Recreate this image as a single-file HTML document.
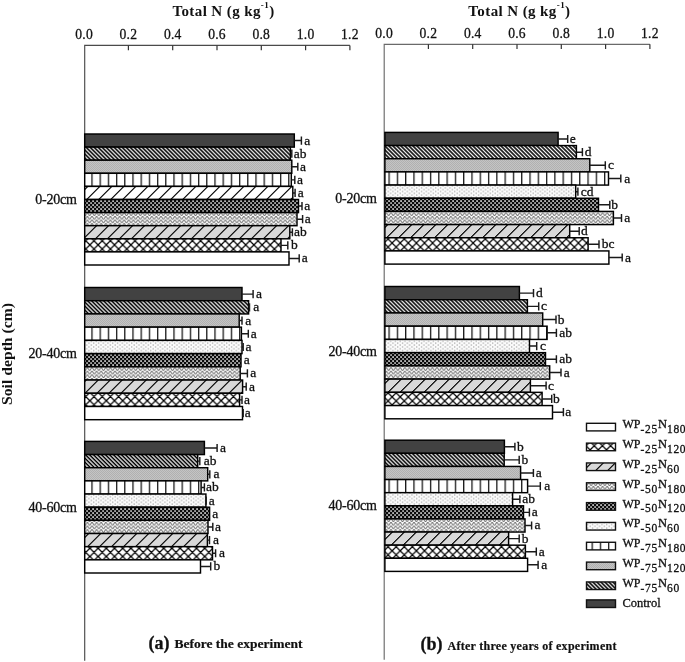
<!DOCTYPE html>
<html><head><meta charset="utf-8"><style>
html,body{margin:0;padding:0;background:#fff;}
svg{display:block;filter:blur(0.4px);}
text{font-family:"Liberation Serif",serif;fill:#111;stroke:#111;stroke-width:0.3px;}
.tk{font-size:13.6px;letter-spacing:0.2px;stroke-width:0.28px;}
.lb{font-size:13.5px;}
.lg{font-size:12px;}
.ti{font-size:15px;font-weight:bold;letter-spacing:0.4px;stroke:none;}
.cat{font-size:14px;letter-spacing:-0.25px;}
.yl{font-size:14.2px;font-weight:bold;stroke:none;}
.cap1{font-size:18px;font-weight:bold;stroke-width:0.3px;}
.cap2{font-size:13.5px;font-weight:bold;stroke-width:0.2px;}
</style></head><body>
<svg width="685" height="662" viewBox="0 0 685 662">
<defs>
<pattern id="p_hatch" patternUnits="userSpaceOnUse" width="2.83" height="10" patternTransform="rotate(-45)">
<rect width="2.83" height="10" fill="#000"/><rect x="0" width="1.25" height="10" fill="#fff"/></pattern>
<pattern id="p_grey" patternUnits="userSpaceOnUse" width="2" height="2">
<rect width="2" height="2" fill="#c4c4c4"/><rect width="1" height="1" fill="#b0b0b0"/><rect x="1" y="1" width="1" height="1" fill="#b0b0b0"/></pattern>
<pattern id="p_vert" patternUnits="userSpaceOnUse" width="8.2" height="10" x="83.15">
<rect width="8.2" height="10" fill="#fff"/><rect x="0" width="1.3" height="10" fill="#1a1a1a"/></pattern>
<pattern id="p_vertR" patternUnits="userSpaceOnUse" width="8.29" height="10" x="380.16">
<rect width="8.29" height="10" fill="#fff"/><rect x="0" width="1.3" height="10" fill="#1a1a1a"/></pattern>
<pattern id="p_dot" patternUnits="userSpaceOnUse" width="4.75" height="3.7">
<rect width="4.75" height="3.7" fill="#fcfcfc"/><rect x="0.6" y="0.4" width="1.1" height="1.1" fill="#8a8a8a"/><rect x="2.97" y="2.25" width="1.1" height="1.1" fill="#8a8a8a"/></pattern>
<pattern id="p_check" patternUnits="userSpaceOnUse" width="4" height="4">
<rect width="4" height="4" fill="#0a0a0a"/><rect x="0.2" y="0.2" width="1.75" height="1.75" fill="#cacaca"/><rect x="2.2" y="2.2" width="1.75" height="1.75" fill="#b4b4b4"/></pattern>
<pattern id="p_zig" patternUnits="userSpaceOnUse" width="4.6" height="3.6">
<rect width="4.6" height="3.6" fill="#fcfcfc"/><path d="M-2.3 3.6L0 0L2.3 3.6L4.6 0L6.9 3.6" stroke="#707070" stroke-width="1.0" fill="none"/></pattern>
<pattern id="p_gslash" patternUnits="userSpaceOnUse" width="12" height="13.2" x="9.35" patternTransform="skewX(-45)">
<rect width="12" height="13.2" fill="#d9d9d9"/><rect x="0" width="1.7" height="13.2" fill="#111"/></pattern>
<pattern id="p_gslashR" patternUnits="userSpaceOnUse" width="12" height="13.2" x="-0.45" patternTransform="skewX(-45)">
<rect width="12" height="13.2" fill="#d9d9d9"/><rect x="0" width="1.7" height="13.2" fill="#111"/></pattern>
<pattern id="p_wslash" patternUnits="userSpaceOnUse" width="12" height="13.2" x="9.35" patternTransform="skewX(-45)">
<rect width="12" height="13.2" fill="#fff"/><rect x="0" width="1.7" height="13.2" fill="#111"/></pattern>
<pattern id="p_cross" patternUnits="userSpaceOnUse" width="8.2" height="8.2" x="7.9" y="7.1">
<rect width="8.2" height="8.2" fill="#fff"/><path d="M-1 -1L9.2 9.2M9.2 -1L-1 9.2M-1 7.2L1 9.2M7.2 -1L9.2 1M-1 1L1 -1M7.2 9.2L9.2 7.2" stroke="#000" stroke-width="1.25"/></pattern>
<pattern id="p_crossR" patternUnits="userSpaceOnUse" width="8.1" height="8.1" x="3.3" y="0">
<rect width="8.1" height="8.1" fill="#fff"/><path d="M-1 -1L9.1 9.1M9.1 -1L-1 9.1M-1 7.1L1 9.1M7.1 -1L9.1 1M-1 1L1 -1M7.1 9.1L9.1 7.1" stroke="#000" stroke-width="1.25"/></pattern>
</defs>
<text x="223.5" y="15.8" class="ti" text-anchor="middle">Total N (g kg<tspan dy="-8" font-size="9px">-1</tspan><tspan dy="8">)</tspan></text>
<text x="519.4" y="15.8" class="ti" text-anchor="middle">Total N (g kg<tspan dy="-8" font-size="9px">-1</tspan><tspan dy="8">)</tspan></text>
<path d="M84.7 660.8V45.4H349.9" stroke="#4a4a4a" stroke-width="1.15" fill="none"/>
<path d="M128.4 45.4V50.199999999999996" stroke="#333" stroke-width="1.2"/>
<path d="M172.7 45.4V50.199999999999996" stroke="#333" stroke-width="1.2"/>
<path d="M217 45.4V50.199999999999996" stroke="#333" stroke-width="1.2"/>
<path d="M261.3 45.4V50.199999999999996" stroke="#333" stroke-width="1.2"/>
<path d="M305.6 45.4V50.199999999999996" stroke="#333" stroke-width="1.2"/>
<path d="M349.9 45.4V50.199999999999996" stroke="#333" stroke-width="1.2"/>
<text x="84.1" y="39" class="tk" text-anchor="middle">0.0</text>
<text x="128.4" y="39" class="tk" text-anchor="middle">0.2</text>
<text x="172.7" y="39" class="tk" text-anchor="middle">0.4</text>
<text x="217" y="39" class="tk" text-anchor="middle">0.6</text>
<text x="261.3" y="39" class="tk" text-anchor="middle">0.8</text>
<text x="305.6" y="39" class="tk" text-anchor="middle">1.0</text>
<text x="349.9" y="39" class="tk" text-anchor="middle">1.2</text>
<path d="M384.2 659.7V44.3H649.9" stroke="#6a6a6a" stroke-width="1.15" fill="none"/>
<path d="M428.4 44.3V49.099999999999994" stroke="#333" stroke-width="1.2"/>
<path d="M472.7 44.3V49.099999999999994" stroke="#333" stroke-width="1.2"/>
<path d="M517 44.3V49.099999999999994" stroke="#333" stroke-width="1.2"/>
<path d="M561.3 44.3V49.099999999999994" stroke="#333" stroke-width="1.2"/>
<path d="M605.6 44.3V49.099999999999994" stroke="#333" stroke-width="1.2"/>
<path d="M649.9 44.3V49.099999999999994" stroke="#333" stroke-width="1.2"/>
<text x="384.1" y="37.8" class="tk" text-anchor="middle">0.0</text>
<text x="428.4" y="37.8" class="tk" text-anchor="middle">0.2</text>
<text x="472.7" y="37.8" class="tk" text-anchor="middle">0.4</text>
<text x="517" y="37.8" class="tk" text-anchor="middle">0.6</text>
<text x="561.3" y="37.8" class="tk" text-anchor="middle">0.8</text>
<text x="605.6" y="37.8" class="tk" text-anchor="middle">1.0</text>
<text x="649.9" y="37.8" class="tk" text-anchor="middle">1.2</text>
<rect x="84.7" y="134" width="209.6" height="13.1" fill="#424242" stroke="#000" stroke-width="1.45"/>
<path d="M294.3 140.55H301.4M301.4 136.45V144.65" stroke="#1a1a1a" stroke-width="1.45" fill="none"/>
<text transform="translate(304.35 144.55)" class="lb">a</text>
<rect x="84.7" y="147.1" width="205.7" height="13.1" fill="url(#p_hatch)" stroke="#000" stroke-width="1.45"/>
<path d="M290.4 153.65H291.8M291.8 149.55V157.75" stroke="#1a1a1a" stroke-width="1.45" fill="none"/>
<text transform="translate(293.75 157.65)" class="lb">ab</text>
<rect x="84.7" y="160.2" width="207.1" height="13.1" fill="url(#p_grey)" stroke="#000" stroke-width="1.45"/>
<path d="M291.8 166.75H297.8M297.8 162.65V170.85" stroke="#1a1a1a" stroke-width="1.45" fill="none"/>
<text transform="translate(300.05 170.75)" class="lb">a</text>
<rect x="84.7" y="173.3" width="206.6" height="13.1" fill="url(#p_vert)" stroke="#000" stroke-width="1.45"/>
<path d="M291.3 179.85H294.8M294.8 175.75V183.95" stroke="#1a1a1a" stroke-width="1.45" fill="none"/>
<text transform="translate(297.05 183.85)" class="lb">a</text>
<rect x="84.7" y="186.4" width="208.1" height="13.1" fill="url(#p_wslash)" stroke="#000" stroke-width="1.45"/>
<path d="M292.8 192.95H295.1M295.1 188.85V197.05" stroke="#1a1a1a" stroke-width="1.45" fill="none"/>
<text transform="translate(297.65 196.95)" class="lb">a</text>
<rect x="84.7" y="199.5" width="213.8" height="13.1" fill="url(#p_check)" stroke="#000" stroke-width="1.45"/>
<path d="M298.5 206.05H302M302 201.95V210.15" stroke="#1a1a1a" stroke-width="1.45" fill="none"/>
<text transform="translate(304.35 210.05)" class="lb">a</text>
<rect x="84.7" y="212.6" width="212.3" height="13.1" fill="url(#p_zig)" stroke="#000" stroke-width="1.45"/>
<path d="M297 219.15H302.6M302.6 215.05V223.25" stroke="#1a1a1a" stroke-width="1.45" fill="none"/>
<text transform="translate(304.65 223.15)" class="lb">a</text>
<rect x="84.7" y="225.7" width="205.1" height="13.1" fill="url(#p_gslash)" stroke="#000" stroke-width="1.45"/>
<path d="M289.8 232.25H292.4M292.4 228.15V236.35" stroke="#1a1a1a" stroke-width="1.45" fill="none"/>
<text transform="translate(294.05 236.25)" class="lb">ab</text>
<rect x="84.7" y="238.8" width="196.3" height="13.1" fill="url(#p_cross)" stroke="#000" stroke-width="1.45"/>
<path d="M281 245.35H287.8M287.8 241.25V249.45" stroke="#1a1a1a" stroke-width="1.45" fill="none"/>
<text transform="translate(290.9 249.35)" class="lb">b</text>
<rect x="84.7" y="251.9" width="204.3" height="13.1" fill="#ffffff" stroke="#000" stroke-width="1.45"/>
<path d="M289 258.45H299.2M299.2 254.35V262.55" stroke="#1a1a1a" stroke-width="1.45" fill="none"/>
<text transform="translate(301.65 262.45)" class="lb">a</text>
<rect x="84.7" y="287.5" width="157.3" height="13.22" fill="#424242" stroke="#000" stroke-width="1.45"/>
<path d="M242 294.11H253.1M253.1 290.01V298.21" stroke="#1a1a1a" stroke-width="1.45" fill="none"/>
<text transform="translate(256.05 298.11)" class="lb">a</text>
<rect x="84.7" y="300.72" width="163.9" height="13.22" fill="url(#p_hatch)" stroke="#000" stroke-width="1.45"/>
<path d="M248.6 307.33H249.5M249.5 303.23V311.43" stroke="#1a1a1a" stroke-width="1.45" fill="none"/>
<text transform="translate(253.25 311.33)" class="lb">a</text>
<rect x="84.7" y="313.94" width="154.5" height="13.22" fill="url(#p_grey)" stroke="#000" stroke-width="1.45"/>
<path d="M239.2 320.55H242M242 316.45V324.65" stroke="#1a1a1a" stroke-width="1.45" fill="none"/>
<text transform="translate(245.15 324.55)" class="lb">a</text>
<rect x="84.7" y="327.16" width="156.7" height="13.22" fill="url(#p_vert)" stroke="#000" stroke-width="1.45"/>
<path d="M241.4 333.77H248.3M248.3 329.67V337.87" stroke="#1a1a1a" stroke-width="1.45" fill="none"/>
<text transform="translate(250.85 337.77)" class="lb">a</text>
<rect x="84.7" y="340.38" width="157.3" height="13.22" fill="url(#p_dot)" stroke="#000" stroke-width="1.45"/>
<path d="M242 346.99H243.2M243.2 342.89V351.09" stroke="#1a1a1a" stroke-width="1.45" fill="none"/>
<text transform="translate(245.45 350.99)" class="lb">a</text>
<rect x="84.7" y="353.6" width="156.3" height="13.22" fill="url(#p_check)" stroke="#000" stroke-width="1.45"/>
<text transform="translate(243.65 364.21)" class="lb">a</text>
<rect x="84.7" y="366.82" width="155.5" height="13.22" fill="url(#p_zig)" stroke="#000" stroke-width="1.45"/>
<path d="M240.2 373.43H247.4M247.4 369.33V377.53" stroke="#1a1a1a" stroke-width="1.45" fill="none"/>
<text transform="translate(250.25 377.43)" class="lb">a</text>
<rect x="84.7" y="380.04" width="157.9" height="13.22" fill="url(#p_gslash)" stroke="#000" stroke-width="1.45"/>
<path d="M242.6 386.65H246.2M246.2 382.55V390.75" stroke="#1a1a1a" stroke-width="1.45" fill="none"/>
<text transform="translate(249.05 390.65)" class="lb">a</text>
<rect x="84.7" y="393.26" width="154.9" height="13.22" fill="url(#p_cross)" stroke="#000" stroke-width="1.45"/>
<path d="M239.6 399.87H242M242 395.77V403.97" stroke="#1a1a1a" stroke-width="1.45" fill="none"/>
<text transform="translate(243.95 403.87)" class="lb">a</text>
<rect x="84.7" y="406.48" width="157.8" height="13.22" fill="#ffffff" stroke="#000" stroke-width="1.45"/>
<path d="M242.5 413.09H243.2M243.2 408.99V417.19" stroke="#1a1a1a" stroke-width="1.45" fill="none"/>
<text transform="translate(244.75 417.09)" class="lb">a</text>
<rect x="84.7" y="441.4" width="119.7" height="13.16" fill="#424242" stroke="#000" stroke-width="1.45"/>
<path d="M204.4 447.98H217.1M217.1 443.88V452.08" stroke="#1a1a1a" stroke-width="1.45" fill="none"/>
<text transform="translate(219.95 451.98)" class="lb">a</text>
<rect x="84.7" y="454.56" width="113" height="13.16" fill="url(#p_hatch)" stroke="#000" stroke-width="1.45"/>
<path d="M197.7 461.14H199.8M199.8 457.04V465.24" stroke="#1a1a1a" stroke-width="1.45" fill="none"/>
<text transform="translate(203.65 465.14)" class="lb">ab</text>
<rect x="84.7" y="467.72" width="123" height="13.16" fill="url(#p_grey)" stroke="#000" stroke-width="1.45"/>
<path d="M207.7 474.3H209.8M209.8 470.2V478.4" stroke="#1a1a1a" stroke-width="1.45" fill="none"/>
<text transform="translate(213.55 478.3)" class="lb">a</text>
<rect x="84.7" y="480.88" width="116.4" height="13.16" fill="url(#p_vert)" stroke="#000" stroke-width="1.45"/>
<path d="M201.1 487.46H204.4M204.4 483.36V491.56" stroke="#1a1a1a" stroke-width="1.45" fill="none"/>
<text transform="translate(206.05 491.46)" class="lb">ab</text>
<rect x="84.7" y="494.04" width="121.2" height="13.16" fill="url(#p_dot)" stroke="#000" stroke-width="1.45"/>
<path d="M206.2 496.52V504.72" stroke="#1a1a1a" stroke-width="1.45" fill="none"/>
<text transform="translate(208.75 504.62)" class="lb">a</text>
<rect x="84.7" y="507.2" width="124.9" height="13.16" fill="url(#p_check)" stroke="#000" stroke-width="1.45"/>
<text transform="translate(212.35 517.78)" class="lb">a</text>
<rect x="84.7" y="520.36" width="123.3" height="13.16" fill="url(#p_zig)" stroke="#000" stroke-width="1.45"/>
<path d="M208 526.94H212.8M212.8 522.84V531.04" stroke="#1a1a1a" stroke-width="1.45" fill="none"/>
<text transform="translate(215.05 530.94)" class="lb">a</text>
<rect x="84.7" y="533.52" width="122.7" height="13.16" fill="url(#p_gslash)" stroke="#000" stroke-width="1.45"/>
<path d="M207.4 540.1H209.5M209.5 536V544.2" stroke="#1a1a1a" stroke-width="1.45" fill="none"/>
<text transform="translate(212.95 544.1)" class="lb">a</text>
<rect x="84.7" y="546.68" width="127.8" height="13.16" fill="url(#p_cross)" stroke="#000" stroke-width="1.45"/>
<path d="M212.5 553.26H215.6M215.6 549.16V557.36" stroke="#1a1a1a" stroke-width="1.45" fill="none"/>
<text transform="translate(219.05 557.26)" class="lb">a</text>
<rect x="84.7" y="559.84" width="115.8" height="13.16" fill="#ffffff" stroke="#000" stroke-width="1.45"/>
<path d="M200.5 566.42H210.7M210.7 562.32V570.52" stroke="#1a1a1a" stroke-width="1.45" fill="none"/>
<text transform="translate(213.4 570.42)" class="lb">b</text>
<rect x="384.9" y="132.4" width="173.2" height="13.17" fill="#424242" stroke="#000" stroke-width="1.45"/>
<path d="M558.1 138.99H567.7M567.7 134.89V143.09" stroke="#1a1a1a" stroke-width="1.45" fill="none"/>
<text transform="translate(569.8 142.99)" class="lb">e</text>
<rect x="384.9" y="145.57" width="191.5" height="13.17" fill="url(#p_hatch)" stroke="#000" stroke-width="1.45"/>
<path d="M576.4 152.16H582.4M582.4 148.06V156.25" stroke="#1a1a1a" stroke-width="1.45" fill="none"/>
<text transform="translate(584.7 156.16)" class="lb">d</text>
<rect x="384.9" y="158.74" width="204.9" height="13.17" fill="url(#p_grey)" stroke="#000" stroke-width="1.45"/>
<path d="M589.8 165.33H605.3M605.3 161.23V169.43" stroke="#1a1a1a" stroke-width="1.45" fill="none"/>
<text transform="translate(608 169.33)" class="lb">c</text>
<rect x="384.9" y="171.91" width="223.6" height="13.17" fill="url(#p_vertR)" stroke="#000" stroke-width="1.45"/>
<path d="M608.5 178.5H620.8M620.8 174.4V182.59" stroke="#1a1a1a" stroke-width="1.45" fill="none"/>
<text transform="translate(624.25 182.5)" class="lb">a</text>
<rect x="384.9" y="185.08" width="190.8" height="13.17" fill="url(#p_dot)" stroke="#000" stroke-width="1.45"/>
<path d="M575.7 191.67H577.9M577.9 187.57V195.77" stroke="#1a1a1a" stroke-width="1.45" fill="none"/>
<text transform="translate(580.8 195.67)" class="lb">cd</text>
<rect x="384.9" y="198.25" width="213.6" height="13.17" fill="url(#p_check)" stroke="#000" stroke-width="1.45"/>
<path d="M598.5 204.84H609.8M609.8 200.74V208.94" stroke="#1a1a1a" stroke-width="1.45" fill="none"/>
<text transform="translate(611.3 208.84)" class="lb">b</text>
<rect x="384.9" y="211.42" width="228.5" height="13.17" fill="url(#p_zig)" stroke="#000" stroke-width="1.45"/>
<path d="M613.4 218.01H621.5M621.5 213.91V222.11" stroke="#1a1a1a" stroke-width="1.45" fill="none"/>
<text transform="translate(624.35 222.01)" class="lb">a</text>
<rect x="384.9" y="224.59" width="184.8" height="13.17" fill="url(#p_gslashR)" stroke="#000" stroke-width="1.45"/>
<path d="M569.7 231.18H579.2M579.2 227.08V235.28" stroke="#1a1a1a" stroke-width="1.45" fill="none"/>
<text transform="translate(581 235.18)" class="lb">d</text>
<rect x="384.9" y="237.76" width="203.2" height="13.17" fill="url(#p_crossR)" stroke="#000" stroke-width="1.45"/>
<path d="M588.1 244.34H599M599 240.25V248.44" stroke="#1a1a1a" stroke-width="1.45" fill="none"/>
<text transform="translate(601.8 248.34)" class="lb">bc</text>
<rect x="384.9" y="250.93" width="224" height="13.17" fill="#ffffff" stroke="#000" stroke-width="1.45"/>
<path d="M608.9 257.51H622.2M622.2 253.41V261.62" stroke="#1a1a1a" stroke-width="1.45" fill="none"/>
<text transform="translate(624.95 261.51)" class="lb">a</text>
<rect x="384.9" y="286.5" width="134.5" height="13.23" fill="#424242" stroke="#000" stroke-width="1.45"/>
<path d="M519.4 293.12H533.5M533.5 289.01V297.22" stroke="#1a1a1a" stroke-width="1.45" fill="none"/>
<text transform="translate(536.1 297.12)" class="lb">d</text>
<rect x="384.9" y="299.73" width="142.5" height="13.23" fill="url(#p_hatch)" stroke="#000" stroke-width="1.45"/>
<path d="M527.4 306.35H538.7M538.7 302.25V310.45" stroke="#1a1a1a" stroke-width="1.45" fill="none"/>
<text transform="translate(540.9 310.35)" class="lb">c</text>
<rect x="384.9" y="312.96" width="157.8" height="13.23" fill="url(#p_grey)" stroke="#000" stroke-width="1.45"/>
<path d="M542.7 319.57H556M556 315.47V323.68" stroke="#1a1a1a" stroke-width="1.45" fill="none"/>
<text transform="translate(557.7 323.57)" class="lb">b</text>
<rect x="384.9" y="326.19" width="162.2" height="13.23" fill="url(#p_vertR)" stroke="#000" stroke-width="1.45"/>
<path d="M547.1 332.81H556.4M556.4 328.7V336.91" stroke="#1a1a1a" stroke-width="1.45" fill="none"/>
<text transform="translate(559.15 336.81)" class="lb">ab</text>
<rect x="384.9" y="339.42" width="144.6" height="13.23" fill="url(#p_dot)" stroke="#000" stroke-width="1.45"/>
<path d="M529.5 346.04H536.7M536.7 341.94V350.14" stroke="#1a1a1a" stroke-width="1.45" fill="none"/>
<text transform="translate(540.1 350.04)" class="lb">c</text>
<rect x="384.9" y="352.65" width="160.6" height="13.23" fill="url(#p_check)" stroke="#000" stroke-width="1.45"/>
<path d="M545.5 359.26H556.4M556.4 355.16V363.37" stroke="#1a1a1a" stroke-width="1.45" fill="none"/>
<text transform="translate(559.15 363.26)" class="lb">ab</text>
<rect x="384.9" y="365.88" width="164.8" height="13.23" fill="url(#p_zig)" stroke="#000" stroke-width="1.45"/>
<path d="M549.7 372.5H561M561 368.39V376.6" stroke="#1a1a1a" stroke-width="1.45" fill="none"/>
<text transform="translate(563.75 376.5)" class="lb">a</text>
<rect x="384.9" y="379.11" width="145.5" height="13.23" fill="url(#p_gslashR)" stroke="#000" stroke-width="1.45"/>
<path d="M530.4 385.73H546.1M546.1 381.62V389.83" stroke="#1a1a1a" stroke-width="1.45" fill="none"/>
<text transform="translate(547.9 389.73)" class="lb">c</text>
<rect x="384.9" y="392.34" width="157.2" height="13.23" fill="url(#p_crossR)" stroke="#000" stroke-width="1.45"/>
<path d="M542.1 398.96H551.7M551.7 394.86V403.06" stroke="#1a1a1a" stroke-width="1.45" fill="none"/>
<text transform="translate(553 402.96)" class="lb">b</text>
<rect x="384.9" y="405.57" width="167.6" height="13.23" fill="#ffffff" stroke="#000" stroke-width="1.45"/>
<path d="M552.5 412.19H563.4M563.4 408.08V416.29" stroke="#1a1a1a" stroke-width="1.45" fill="none"/>
<text transform="translate(565.35 416.19)" class="lb">a</text>
<rect x="384.9" y="440.2" width="119.5" height="13.12" fill="#424242" stroke="#000" stroke-width="1.45"/>
<path d="M504.4 446.76H514.9M514.9 442.66V450.86" stroke="#1a1a1a" stroke-width="1.45" fill="none"/>
<text transform="translate(517 450.76)" class="lb">b</text>
<rect x="384.9" y="453.32" width="119.3" height="13.12" fill="url(#p_hatch)" stroke="#000" stroke-width="1.45"/>
<path d="M504.2 459.88H519.2M519.2 455.78V463.98" stroke="#1a1a1a" stroke-width="1.45" fill="none"/>
<text transform="translate(521.4 463.88)" class="lb">b</text>
<rect x="384.9" y="466.44" width="135.7" height="13.12" fill="url(#p_grey)" stroke="#000" stroke-width="1.45"/>
<path d="M520.6 473H533.4M533.4 468.9V477.1" stroke="#1a1a1a" stroke-width="1.45" fill="none"/>
<text transform="translate(535.85 477)" class="lb">a</text>
<rect x="384.9" y="479.56" width="142.7" height="13.12" fill="url(#p_vertR)" stroke="#000" stroke-width="1.45"/>
<path d="M527.6 486.12H540.3M540.3 482.02V490.22" stroke="#1a1a1a" stroke-width="1.45" fill="none"/>
<text transform="translate(544.25 490.12)" class="lb">a</text>
<rect x="384.9" y="492.68" width="127.7" height="13.12" fill="url(#p_dot)" stroke="#000" stroke-width="1.45"/>
<path d="M512.6 499.24H519.9M519.9 495.14V503.34" stroke="#1a1a1a" stroke-width="1.45" fill="none"/>
<text transform="translate(522.35 503.24)" class="lb">ab</text>
<rect x="384.9" y="505.8" width="138.6" height="13.12" fill="url(#p_check)" stroke="#000" stroke-width="1.45"/>
<path d="M523.5 512.36H529.4M529.4 508.26V516.46" stroke="#1a1a1a" stroke-width="1.45" fill="none"/>
<text transform="translate(531.85 516.36)" class="lb">a</text>
<rect x="384.9" y="518.92" width="140.1" height="13.12" fill="url(#p_zig)" stroke="#000" stroke-width="1.45"/>
<path d="M525 525.48H531.6M531.6 521.38V529.58" stroke="#1a1a1a" stroke-width="1.45" fill="none"/>
<text transform="translate(534.45 529.48)" class="lb">a</text>
<rect x="384.9" y="532.04" width="123.7" height="13.12" fill="url(#p_gslashR)" stroke="#000" stroke-width="1.45"/>
<path d="M508.6 538.6H519.2M519.2 534.5V542.7" stroke="#1a1a1a" stroke-width="1.45" fill="none"/>
<text transform="translate(521.8 542.6)" class="lb">b</text>
<rect x="384.9" y="545.16" width="140.5" height="13.12" fill="url(#p_crossR)" stroke="#000" stroke-width="1.45"/>
<path d="M525.4 551.72H536.3M536.3 547.62V555.82" stroke="#1a1a1a" stroke-width="1.45" fill="none"/>
<text transform="translate(538.75 555.72)" class="lb">a</text>
<rect x="384.9" y="558.28" width="142.7" height="13.12" fill="#ffffff" stroke="#000" stroke-width="1.45"/>
<path d="M527.6 564.84H538.1M538.1 560.74V568.94" stroke="#1a1a1a" stroke-width="1.45" fill="none"/>
<text transform="translate(541.35 568.84)" class="lb">a</text>
<text x="76.6" y="204.1" class="cat" text-anchor="end">0-20cm</text>
<text x="76.6" y="357.5" class="cat" text-anchor="end">20-40cm</text>
<text x="76.6" y="511.5" class="cat" text-anchor="end">40-60cm</text>
<text x="376.6" y="202.5" class="cat" text-anchor="end">0-20cm</text>
<text x="376.6" y="355.9" class="cat" text-anchor="end">20-40cm</text>
<text x="376.6" y="510.4" class="cat" text-anchor="end">40-60cm</text>
<text transform="translate(11.6,354) rotate(-90)" class="yl" x="-51" textLength="102" lengthAdjust="spacingAndGlyphs">Soil depth (cm)</text>
<text x="148.5" y="649" class="cap1">(a)</text>
<text x="174.5" y="648.4" class="cap2">Before the experiment</text>
<text x="420.5" y="649.5" class="cap1">(b)</text>
<text x="447.5" y="649.5" class="cap2" style="font-size:12px;letter-spacing:0.27px">After three years of experiment</text>
<rect x="586.5" y="423.3" width="29" height="7.6" fill="#ffffff" stroke="#111" stroke-width="1.4"/>
<text x="622.5" y="428.2" class="lg">WP<tspan dy="4.9" font-size="11.5px" letter-spacing="0.7">-25</tspan><tspan dy="-4.9" font-size="12.5px">N</tspan><tspan dy="4.9" font-size="11.5px" letter-spacing="0.7">180</tspan></text>
<rect x="586.5" y="443.13" width="29" height="7.6" fill="url(#p_cross)" stroke="#111" stroke-width="1.4"/>
<text x="622.5" y="448.03" class="lg">WP<tspan dy="4.9" font-size="11.5px" letter-spacing="0.7">-25</tspan><tspan dy="-4.9" font-size="12.5px">N</tspan><tspan dy="4.9" font-size="11.5px" letter-spacing="0.7">120</tspan></text>
<rect x="586.5" y="462.96" width="29" height="7.6" fill="url(#p_gslash)" stroke="#111" stroke-width="1.4"/>
<text x="622.5" y="467.86" class="lg">WP<tspan dy="4.9" font-size="11.5px" letter-spacing="0.7">-25</tspan><tspan dy="-4.9" font-size="12.5px">N</tspan><tspan dy="4.9" font-size="11.5px" letter-spacing="0.7">60</tspan></text>
<rect x="586.5" y="482.79" width="29" height="7.6" fill="url(#p_zig)" stroke="#111" stroke-width="1.4"/>
<text x="622.5" y="487.69" class="lg">WP<tspan dy="4.9" font-size="11.5px" letter-spacing="0.7">-50</tspan><tspan dy="-4.9" font-size="12.5px">N</tspan><tspan dy="4.9" font-size="11.5px" letter-spacing="0.7">180</tspan></text>
<rect x="586.5" y="502.62" width="29" height="7.6" fill="url(#p_check)" stroke="#111" stroke-width="1.4"/>
<text x="622.5" y="507.52" class="lg">WP<tspan dy="4.9" font-size="11.5px" letter-spacing="0.7">-50</tspan><tspan dy="-4.9" font-size="12.5px">N</tspan><tspan dy="4.9" font-size="11.5px" letter-spacing="0.7">120</tspan></text>
<rect x="586.5" y="522.45" width="29" height="7.6" fill="url(#p_dot)" stroke="#111" stroke-width="1.4"/>
<text x="622.5" y="527.35" class="lg">WP<tspan dy="4.9" font-size="11.5px" letter-spacing="0.7">-50</tspan><tspan dy="-4.9" font-size="12.5px">N</tspan><tspan dy="4.9" font-size="11.5px" letter-spacing="0.7">60</tspan></text>
<rect x="586.5" y="542.28" width="29" height="7.6" fill="url(#p_vert)" stroke="#111" stroke-width="1.4"/>
<text x="622.5" y="547.18" class="lg">WP<tspan dy="4.9" font-size="11.5px" letter-spacing="0.7">-75</tspan><tspan dy="-4.9" font-size="12.5px">N</tspan><tspan dy="4.9" font-size="11.5px" letter-spacing="0.7">180</tspan></text>
<rect x="586.5" y="562.11" width="29" height="7.6" fill="url(#p_grey)" stroke="#111" stroke-width="1.4"/>
<text x="622.5" y="567.01" class="lg">WP<tspan dy="4.9" font-size="11.5px" letter-spacing="0.7">-75</tspan><tspan dy="-4.9" font-size="12.5px">N</tspan><tspan dy="4.9" font-size="11.5px" letter-spacing="0.7">120</tspan></text>
<rect x="586.5" y="581.94" width="29" height="7.6" fill="url(#p_hatch)" stroke="#111" stroke-width="1.4"/>
<text x="622.5" y="586.84" class="lg">WP<tspan dy="4.9" font-size="11.5px" letter-spacing="0.7">-75</tspan><tspan dy="-4.9" font-size="12.5px">N</tspan><tspan dy="4.9" font-size="11.5px" letter-spacing="0.7">60</tspan></text>
<rect x="586.5" y="599.9" width="29" height="7.6" fill="#424242" stroke="#111" stroke-width="1.4"/>
<text x="622.5" y="607.2" class="lg" style="font-size:12.5px">Control</text>
</svg>
</body></html>
